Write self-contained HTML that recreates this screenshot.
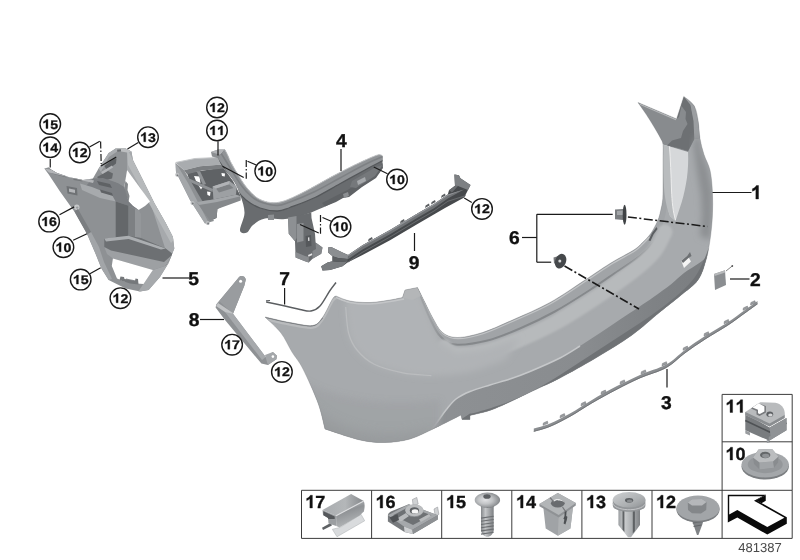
<!DOCTYPE html>
<html><head><meta charset="utf-8"><title>Rear bumper trim panel</title>
<style>
html,body{margin:0;padding:0;background:#fff;}
body{width:800px;height:560px;overflow:hidden;font-family:"Liberation Sans",sans-serif;}
svg{display:block;will-change:transform;}
text{text-rendering:geometricPrecision;}
text{font-family:"Liberation Sans",sans-serif;}
.b{font-weight:bold;font-size:18px;fill:#111;stroke:#111;stroke-width:0.35;text-anchor:middle;}
.c{font-weight:bold;font-size:12.5px;fill:#111;stroke:#111;stroke-width:0.3;text-anchor:middle;}
.t{font-weight:bold;font-size:17.5px;fill:#111;stroke:#111;stroke-width:0.35;}
.ld{stroke:#1a1a1a;stroke-width:1.2;fill:none;}
.ci{fill:#fff;stroke:#1a1a1a;stroke-width:1.4;}
</style></head><body>
<svg width="800" height="560" viewBox="0 0 800 560">
<defs>
<filter id="bl1" x="-10%" y="-10%" width="120%" height="120%"><feGaussianBlur stdDeviation="1.2"/></filter>
<filter id="bl3" x="-20%" y="-20%" width="140%" height="140%"><feGaussianBlur stdDeviation="3"/></filter>
<filter id="bl6" x="-30%" y="-30%" width="160%" height="160%"><feGaussianBlur stdDeviation="6"/></filter>
<filter id="soft" x="-5%" y="-5%" width="110%" height="110%"><feGaussianBlur stdDeviation="0.45"/></filter>
<linearGradient id="gBody" x1="0" y1="0" x2="1" y2="0">
 <stop offset="0" stop-color="#9da0a3"/><stop offset="0.45" stop-color="#a4a7aa"/><stop offset="1" stop-color="#9a9da0"/>
</linearGradient>
<linearGradient id="gMetal" x1="0" y1="0" x2="1" y2="1">
 <stop offset="0" stop-color="#c4c6c8"/><stop offset="0.5" stop-color="#9b9ea1"/><stop offset="1" stop-color="#7c7f82"/>
</linearGradient>
<linearGradient id="gMetalV" x1="0" y1="0" x2="0" y2="1">
 <stop offset="0" stop-color="#c9cbcd"/><stop offset="1" stop-color="#85888b"/>
</linearGradient>
<linearGradient id="gMetalH" x1="0" y1="0" x2="1" y2="0">
 <stop offset="0" stop-color="#b9bbbd"/><stop offset="0.5" stop-color="#a0a3a6"/><stop offset="1" stop-color="#7a7d80"/>
</linearGradient>
</defs>
<rect x="0" y="0" width="800" height="560" fill="#ffffff"/>
<clipPath id="cpB"><path d="M265.0,317.0 C269.2,317.9 282.1,321.1 290.0,322.5 C297.9,323.9 307.1,326.3 312.5,325.5 C317.9,324.7 319.2,321.9 322.5,317.5 C325.8,313.1 330.2,302.6 332.5,299.0 C334.8,295.4 335.4,296.5 336.0,296.0 L336.0,296.0 C338.3,296.8 344.3,299.9 350.0,301.0 C355.7,302.1 363.3,302.7 370.0,302.5 C376.7,302.3 384.6,300.8 390.0,300.0 C395.4,299.2 400.4,297.9 402.5,297.5 L405,290 L417.5,287.5 L417.5,287.5 C418.8,290.0 422.5,297.5 425.0,302.5 C427.5,307.5 429.6,312.5 432.5,317.5 C435.4,322.5 438.3,329.2 442.5,332.5 C446.7,335.8 450.8,337.5 457.5,337.5 C464.2,337.5 473.3,335.4 482.5,332.5 C491.7,329.6 501.2,325.0 512.5,320.0 C523.8,315.0 537.9,309.2 550.0,302.5 C562.1,295.8 575.0,286.5 585.0,280.0 C595.0,273.5 601.9,268.5 610.0,263.5 C618.1,258.5 628.3,253.5 633.8,250.0 C639.2,246.5 640.0,244.8 642.5,242.5 C645.0,240.2 647.0,238.1 648.8,236.0 C650.5,233.9 651.5,232.7 653.0,230.0 C654.5,227.3 656.7,223.2 658.0,220.0 C659.3,216.8 659.8,214.5 660.6,211.0 C661.4,207.5 662.4,203.9 662.8,198.8 C663.1,193.6 663.0,186.5 663.0,180.0 C663.0,173.5 663.0,165.9 663.0,160.0 C663.0,154.1 663.4,148.2 663.0,144.6 C662.6,141.0 662.0,141.1 660.5,138.2 C659.0,135.3 656.5,131.0 654.1,127.0 C651.7,123.0 648.7,118.2 646.0,114.1 C643.3,110.0 639.3,104.4 638.0,102.5 L676.6,118.9 L683.8,96.4 L683.8,96.4 C685.5,98.0 691.9,101.7 694.3,106.0 C696.7,110.3 697.4,116.6 698.3,122.0 C699.2,127.4 699.0,132.8 699.9,138.2 C700.8,143.6 702.2,149.0 703.9,154.3 C705.6,159.7 708.6,164.1 710.0,170.3 C711.4,176.5 712.0,184.1 712.4,191.7 C712.8,199.3 712.8,207.8 712.4,215.8 C712.0,223.9 711.1,232.6 710.0,240.0 C708.9,247.4 708.0,253.3 706.0,260.0 C704.0,266.7 702.3,274.0 698.0,280.0 C693.7,286.0 686.3,290.7 680.0,296.0 C673.7,301.3 668.1,305.4 660.0,312.0 C651.9,318.6 642.1,327.8 631.4,335.5 C620.7,343.2 607.6,350.9 595.7,358.0 C583.8,365.1 570.5,372.5 560.0,378.0 C549.5,383.5 543.3,385.9 532.5,391.0 C521.7,396.1 505.4,404.4 495.0,408.5 C484.6,412.6 474.2,414.3 470.0,415.5 L470,419.5 L462,419.5 L461.0,415.0 C456.7,417.2 443.5,424.0 435.0,428.0 C426.5,432.0 418.3,436.6 410.0,439.0 C401.7,441.4 393.3,442.3 385.0,442.5 C376.7,442.7 370.0,442.2 360.0,440.0 C350.0,437.8 330.8,430.8 325.0,429.0 L325.0,429.0 C323.8,424.7 321.7,413.0 318.0,403.0 C314.3,393.0 307.3,377.5 303.0,369.0 C298.7,360.5 295.7,358.0 292.0,352.0 C288.3,346.0 285.5,338.8 281.0,333.0 C276.5,327.2 267.7,319.7 265.0,317.0Z"/></clipPath>
<path d="M265.0,317.0 C269.2,317.9 282.1,321.1 290.0,322.5 C297.9,323.9 307.1,326.3 312.5,325.5 C317.9,324.7 319.2,321.9 322.5,317.5 C325.8,313.1 330.2,302.6 332.5,299.0 C334.8,295.4 335.4,296.5 336.0,296.0 L336.0,296.0 C338.3,296.8 344.3,299.9 350.0,301.0 C355.7,302.1 363.3,302.7 370.0,302.5 C376.7,302.3 384.6,300.8 390.0,300.0 C395.4,299.2 400.4,297.9 402.5,297.5 L405,290 L417.5,287.5 L417.5,287.5 C418.8,290.0 422.5,297.5 425.0,302.5 C427.5,307.5 429.6,312.5 432.5,317.5 C435.4,322.5 438.3,329.2 442.5,332.5 C446.7,335.8 450.8,337.5 457.5,337.5 C464.2,337.5 473.3,335.4 482.5,332.5 C491.7,329.6 501.2,325.0 512.5,320.0 C523.8,315.0 537.9,309.2 550.0,302.5 C562.1,295.8 575.0,286.5 585.0,280.0 C595.0,273.5 601.9,268.5 610.0,263.5 C618.1,258.5 628.3,253.5 633.8,250.0 C639.2,246.5 640.0,244.8 642.5,242.5 C645.0,240.2 647.0,238.1 648.8,236.0 C650.5,233.9 651.5,232.7 653.0,230.0 C654.5,227.3 656.7,223.2 658.0,220.0 C659.3,216.8 659.8,214.5 660.6,211.0 C661.4,207.5 662.4,203.9 662.8,198.8 C663.1,193.6 663.0,186.5 663.0,180.0 C663.0,173.5 663.0,165.9 663.0,160.0 C663.0,154.1 663.4,148.2 663.0,144.6 C662.6,141.0 662.0,141.1 660.5,138.2 C659.0,135.3 656.5,131.0 654.1,127.0 C651.7,123.0 648.7,118.2 646.0,114.1 C643.3,110.0 639.3,104.4 638.0,102.5 L676.6,118.9 L683.8,96.4 L683.8,96.4 C685.5,98.0 691.9,101.7 694.3,106.0 C696.7,110.3 697.4,116.6 698.3,122.0 C699.2,127.4 699.0,132.8 699.9,138.2 C700.8,143.6 702.2,149.0 703.9,154.3 C705.6,159.7 708.6,164.1 710.0,170.3 C711.4,176.5 712.0,184.1 712.4,191.7 C712.8,199.3 712.8,207.8 712.4,215.8 C712.0,223.9 711.1,232.6 710.0,240.0 C708.9,247.4 708.0,253.3 706.0,260.0 C704.0,266.7 702.3,274.0 698.0,280.0 C693.7,286.0 686.3,290.7 680.0,296.0 C673.7,301.3 668.1,305.4 660.0,312.0 C651.9,318.6 642.1,327.8 631.4,335.5 C620.7,343.2 607.6,350.9 595.7,358.0 C583.8,365.1 570.5,372.5 560.0,378.0 C549.5,383.5 543.3,385.9 532.5,391.0 C521.7,396.1 505.4,404.4 495.0,408.5 C484.6,412.6 474.2,414.3 470.0,415.5 L470,419.5 L462,419.5 L461.0,415.0 C456.7,417.2 443.5,424.0 435.0,428.0 C426.5,432.0 418.3,436.6 410.0,439.0 C401.7,441.4 393.3,442.3 385.0,442.5 C376.7,442.7 370.0,442.2 360.0,440.0 C350.0,437.8 330.8,430.8 325.0,429.0 L325.0,429.0 C323.8,424.7 321.7,413.0 318.0,403.0 C314.3,393.0 307.3,377.5 303.0,369.0 C298.7,360.5 295.7,358.0 292.0,352.0 C288.3,346.0 285.5,338.8 281.0,333.0 C276.5,327.2 267.7,319.7 265.0,317.0Z" fill="#a7aaad"/>
<g clip-path="url(#cpB)">
<defs><linearGradient id="gVal" gradientUnits="userSpaceOnUse" x1="450" y1="0" x2="690" y2="0"><stop offset="0" stop-color="#8d9093"/><stop offset="0.55" stop-color="#898c8f"/><stop offset="0.85" stop-color="#7f8285"/><stop offset="1" stop-color="#7c7f82"/></linearGradient></defs>
<path d="M430.0,432.0 C431.3,430.2 435.3,424.7 438.0,421.0 C440.7,417.3 443.0,413.7 446.0,410.0 C449.0,406.3 452.0,402.1 456.0,399.0 C460.0,395.9 464.3,393.8 470.0,391.5 C475.7,389.2 483.3,387.1 490.0,385.0 C496.7,382.9 503.3,381.2 510.0,379.0 C516.7,376.8 521.7,375.0 530.0,371.5 C538.3,368.0 551.7,362.2 560.0,358.0 C568.3,353.8 573.3,350.2 580.0,346.0 C586.7,341.8 593.3,337.4 600.0,333.0 C606.7,328.6 613.5,323.8 620.0,319.5 C626.5,315.2 633.4,310.8 639.0,307.0 C644.6,303.2 648.2,300.8 653.6,297.0 C659.0,293.2 666.3,288.0 671.4,284.0 C676.5,280.0 679.2,276.6 684.0,273.0 C688.8,269.4 695.3,266.0 700.0,262.5 C704.7,259.0 710.0,253.8 712.0,252.0 L730.0,200.0 C729.7,210.0 733.0,243.3 728.0,260.0 C723.0,276.7 711.3,288.3 700.0,300.0 C688.7,311.7 676.7,318.0 660.0,330.0 C643.3,342.0 620.0,360.0 600.0,372.0 C580.0,384.0 560.0,392.3 540.0,402.0 C520.0,411.7 498.3,423.7 480.0,430.0 C461.7,436.3 438.3,438.3 430.0,440.0Z" fill="url(#gVal)"/>
<path d="M470.0,413.5 C471.0,413.3 471.0,413.9 476.0,412.5 C481.0,411.1 492.7,407.6 500.0,405.0 C507.3,402.4 513.3,400.0 520.0,397.0 C526.7,394.0 533.3,390.7 540.0,387.0 C546.7,383.3 553.3,379.2 560.0,375.0 C566.7,370.8 573.3,366.3 580.0,362.0 C586.7,357.7 593.3,353.3 600.0,349.0 C606.7,344.7 613.3,340.3 620.0,336.0 C626.7,331.7 633.3,327.5 640.0,323.0 C646.7,318.5 653.3,314.0 660.0,309.0 C666.7,304.0 674.2,298.3 680.0,293.0 C685.8,287.7 691.2,282.2 695.0,277.0 C698.8,271.8 700.8,266.5 703.0,262.0 C705.2,257.5 707.2,252.0 708.0,250.0 L730.0,200.0 C729.7,210.0 733.0,243.3 728.0,260.0 C723.0,276.7 711.3,288.3 700.0,300.0 C688.7,311.7 676.7,318.0 660.0,330.0 C643.3,342.0 620.0,360.0 600.0,372.0 C580.0,384.0 560.0,392.3 540.0,402.0 C520.0,411.7 498.3,423.7 480.0,430.0 C461.7,436.3 438.3,438.3 430.0,440.0Z" fill="#6f7275"/>
<path d="M430.0,432.0 C431.3,430.2 435.3,424.7 438.0,421.0 C440.7,417.3 443.0,413.7 446.0,410.0 C449.0,406.3 452.0,402.1 456.0,399.0 C460.0,395.9 464.3,393.8 470.0,391.5 C475.7,389.2 483.3,387.1 490.0,385.0 C496.7,382.9 503.3,381.2 510.0,379.0 C516.7,376.8 521.7,375.0 530.0,371.5 C538.3,368.0 551.7,362.2 560.0,358.0 C568.3,353.8 576.7,348.0 580.0,346.0" fill="none" stroke="#c6c8ca" stroke-width="1.5" filter="url(#soft)"/>
<path d="M417.5,287.5 C418.6,290.4 421.8,299.4 424.0,305.0 C426.2,310.6 428.3,315.8 431.0,321.0 C433.7,326.2 436.0,332.1 440.0,336.0 C444.0,339.9 447.1,343.8 455.0,344.5 C462.9,345.2 476.7,343.2 487.5,340.5 C498.3,337.8 508.8,333.3 520.0,328.5 C531.2,323.7 543.3,317.9 555.0,311.5 C566.7,305.1 580.0,296.4 590.0,290.0 C600.0,283.6 606.7,278.7 615.0,273.0 C623.3,267.3 633.7,261.0 640.0,256.0 C646.3,251.0 649.5,247.5 653.0,243.0 C656.5,238.5 658.8,234.2 661.0,229.0 C663.2,223.8 664.9,217.3 666.0,212.0 C667.1,206.7 667.2,204.0 667.5,197.0 C667.8,190.0 667.8,178.5 668.0,170.0 C668.2,161.5 668.8,150.0 669.0,146.0 L663,144.6 L663.0,144.6 C663.0,147.2 663.0,154.1 663.0,160.0 C663.0,165.9 663.0,173.5 663.0,180.0 C663.0,186.5 663.1,193.6 662.8,198.8 C662.4,203.9 661.4,207.5 660.6,211.0 C659.8,214.5 659.3,216.8 658.0,220.0 C656.7,223.2 654.5,227.3 653.0,230.0 C651.5,232.7 650.5,233.9 648.8,236.0 C647.0,238.1 645.0,240.2 642.5,242.5 C640.0,244.8 639.2,246.5 633.8,250.0 C628.3,253.5 618.1,258.5 610.0,263.5 C601.9,268.5 595.0,273.5 585.0,280.0 C575.0,286.5 562.1,295.8 550.0,302.5 C537.9,309.2 523.8,315.0 512.5,320.0 C501.2,325.0 491.7,329.6 482.5,332.5 C473.3,335.4 464.2,337.5 457.5,337.5 C450.8,337.5 446.7,335.8 442.5,332.5 C438.3,329.2 435.4,322.5 432.5,317.5 C429.6,312.5 427.5,307.5 425.0,302.5 C422.5,297.5 418.8,290.0 417.5,287.5Z" fill="#a1a4a7"/>
<path d="M417.5,287.5 C418.6,290.4 421.8,299.4 424.0,305.0 C426.2,310.6 428.3,315.8 431.0,321.0 C433.7,326.2 436.0,332.1 440.0,336.0 C444.0,339.9 447.1,343.8 455.0,344.5 C462.9,345.2 476.7,343.2 487.5,340.5 C498.3,337.8 508.8,333.3 520.0,328.5 C531.2,323.7 543.3,317.9 555.0,311.5 C566.7,305.1 580.0,296.4 590.0,290.0 C600.0,283.6 606.7,278.7 615.0,273.0 C623.3,267.3 633.7,261.0 640.0,256.0 C646.3,251.0 649.5,247.5 653.0,243.0 C656.5,238.5 659.7,231.3 661.0,229.0" fill="none" stroke="#85888b" stroke-width="2" filter="url(#soft)"/>
<path d="M418.1,288.7 C419.4,291.2 423.1,298.7 425.6,303.7 C428.1,308.7 430.2,313.7 433.1,318.7 C436.0,323.7 438.9,330.4 443.1,333.7 C447.3,337.0 451.4,338.7 458.1,338.7 C464.8,338.7 473.9,336.6 483.1,333.7 C492.3,330.8 501.9,326.2 513.1,321.2 C524.4,316.2 538.5,310.4 550.6,303.7 C562.7,297.0 575.6,287.7 585.6,281.2 C595.6,274.7 602.5,269.7 610.6,264.7 C618.7,259.7 628.9,254.7 634.4,251.2 C639.8,247.7 640.6,246.0 643.1,243.7 C645.6,241.4 648.3,238.3 649.4,237.2" fill="none" stroke="#c2c4c6" stroke-width="1.2" filter="url(#soft)"/>
<path d="M444.0,347.0 C446.0,348.2 448.8,353.8 456.0,354.5 C463.2,355.2 476.8,353.5 487.5,351.0 C498.2,348.5 508.8,344.2 520.0,339.5 C531.2,334.8 543.3,329.3 555.0,323.0 C566.7,316.7 580.0,307.9 590.0,301.5 C600.0,295.1 606.7,290.5 615.0,284.5 C623.3,278.5 633.3,271.2 640.0,265.5 C646.7,259.8 650.8,256.1 655.0,250.5 C659.2,244.9 663.3,235.1 665.0,232.0" fill="none" stroke="#b7babc" stroke-width="15" stroke-linecap="round" filter="url(#bl1)"/>
<path d="M638,102.5 L676.6,118.9 L683.8,96.4 L694.3,106 L698.3,122 L699.9,138.2 L694.3,139 L688,152 L663,144.6 L660.5,138.2 L654.1,127 L646,114.1Z" fill="#888b8e"/>
<path d="M676.6,118.9 L683.8,96.4 L690.5,104 L694,121 L695.5,137 L688,151 L678,148 L667,145.5 L672,140.5 L681,138 L683,131 L687.5,124 L685.5,119 L686,112 L681.5,106 L679,117Z" fill="#6d7073"/>
<path d="M683.8,96.4 L694.3,106 L698.3,122 L699.9,138.2 L694.3,139 L693.5,121 L690.5,105Z" fill="#9b9ea1"/>
<path d="M639.5,104 L676,119.6" stroke="#b6b8ba" stroke-width="1.2" fill="none"/>
<path d="M663,144.6 L688,152 C688.5,161 688,170 686.9,178.3 C685.5,187 684,195 681.6,202.4 L675.5,221 L670,216 C668,210 667,204 666.5,197 C666,188 666,178 666,165Z" fill="#d6d8da"/>
<path d="M663,144.6 L669.5,146.5 C670.5,160 671,175 671.5,190 C672,202 673,212 675.5,221 L670,216 C667.5,210 666,204 665,197 C663.5,185 663,170 663,160Z" fill="#b9bcbe"/>
<path d="M669.5,146.5 C670.5,160 671,175 671.5,190 C672,202 673,212 675.5,220" fill="none" stroke="#f0f0f1" stroke-width="0.9"/>
<path d="M693,143 L699,132.8 L701.7,151.6 L708.4,170.3 L712.4,191.7 L712.4,215.8 L710,240 L700,236 L702,215 L701,195 L697,172Z" fill="#8c8f92" filter="url(#bl3)"/>
<path d="M656.5,227 L652,233 L648.5,240.5 L650.5,241 L653.5,234.5 L657.5,229Z" fill="#5c5f62"/>
<path d="M681.25,260.7 L687.5,255.4 L691,261.6 L684,267.9Z" fill="#f4f4f4"/>
<path d="M681.25,260.7 L687.5,255.4 L690,252 L691.5,256 L688.5,258 L683,263Z" fill="#6e7174"/>
<path d="M345.7,307.0 C346.2,311.3 346.7,325.8 348.6,333.0 C350.5,340.2 352.7,344.8 357.0,350.0 C361.3,355.2 366.7,360.5 374.3,364.3 C381.9,368.1 393.4,371.0 402.9,372.9 C412.4,374.8 420.2,375.8 431.4,375.7 C442.6,375.6 457.7,374.6 470.0,372.0 C482.3,369.4 499.2,362.0 505.0,360.0 L520,338 L487,349 L456,353 L440,342 L425,305 L417,288 L345,300Z" fill="#b0b3b6" filter="url(#bl3)"/>
<path d="M345.7,307.0 C346.2,311.3 346.7,325.8 348.6,333.0 C350.5,340.2 352.7,344.8 357.0,350.0 C361.3,355.2 366.7,360.5 374.3,364.3 C381.9,368.1 393.4,371.0 402.9,372.9 C412.4,374.8 426.6,375.2 431.4,375.7" fill="none" stroke="#bbbdbf" stroke-width="1.2" filter="url(#soft)"/>
<path d="M336.0,297.5 C338.3,298.3 344.3,301.4 350.0,302.5 C355.7,303.6 363.3,304.2 370.0,304.0 C376.7,303.8 384.3,302.3 390.0,301.5 C395.7,300.7 401.7,299.4 404.0,299.0" fill="none" stroke="#c3c5c7" stroke-width="1.6"/>
<path d="M402.5,297.5 L405,290 L417.5,287.5 L421,296 L412,300Z" fill="#b4b6b8"/>
<path d="M290,372 C320,395 370,408 440,400 L440,455 L290,455Z" fill="#a0a3a6" filter="url(#bl3)" opacity="0.9"/><path d="M300,395 C330,432 380,443 436,428 L440,460 L300,460Z" fill="#94979a" filter="url(#bl6)" opacity="0.7"/>
<path d="M265.0,319.2 C269.2,320.1 282.1,323.3 290.0,324.7 C297.9,326.1 307.1,328.5 312.5,327.7 C317.9,326.9 319.2,324.1 322.5,319.7 C325.8,315.3 330.2,304.8 332.5,301.2 C334.8,297.6 335.4,298.7 336.0,298.2" fill="none" stroke="#b9bbbd" stroke-width="2.2" filter="url(#soft)"/>
<path d="M265.0,317.0 C269.2,317.9 282.1,321.1 290.0,322.5 C297.9,323.9 307.1,326.3 312.5,325.5 C317.9,324.7 320.8,318.8 322.5,317.5" fill="none" stroke="#74777a" stroke-width="1.6" filter="url(#soft)"/>
</g>
<path d="M265.0,317.0 C269.2,317.9 282.1,321.1 290.0,322.5 C297.9,323.9 307.1,326.3 312.5,325.5 C317.9,324.7 319.2,321.9 322.5,317.5 C325.8,313.1 330.2,302.6 332.5,299.0 C334.8,295.4 335.4,296.5 336.0,296.0 L336.0,296.0 C338.3,296.8 344.3,299.9 350.0,301.0 C355.7,302.1 363.3,302.7 370.0,302.5 C376.7,302.3 384.6,300.8 390.0,300.0 C395.4,299.2 400.4,297.9 402.5,297.5 L405,290 L417.5,287.5 L417.5,287.5 C418.8,290.0 422.5,297.5 425.0,302.5 C427.5,307.5 429.6,312.5 432.5,317.5 C435.4,322.5 438.3,329.2 442.5,332.5 C446.7,335.8 450.8,337.5 457.5,337.5 C464.2,337.5 473.3,335.4 482.5,332.5 C491.7,329.6 501.2,325.0 512.5,320.0 C523.8,315.0 537.9,309.2 550.0,302.5 C562.1,295.8 575.0,286.5 585.0,280.0 C595.0,273.5 601.9,268.5 610.0,263.5 C618.1,258.5 628.3,253.5 633.8,250.0 C639.2,246.5 640.0,244.8 642.5,242.5 C645.0,240.2 647.0,238.1 648.8,236.0 C650.5,233.9 651.5,232.7 653.0,230.0 C654.5,227.3 656.7,223.2 658.0,220.0 C659.3,216.8 659.8,214.5 660.6,211.0 C661.4,207.5 662.4,203.9 662.8,198.8 C663.1,193.6 663.0,186.5 663.0,180.0 C663.0,173.5 663.0,165.9 663.0,160.0 C663.0,154.1 663.4,148.2 663.0,144.6 C662.6,141.0 662.0,141.1 660.5,138.2 C659.0,135.3 656.5,131.0 654.1,127.0 C651.7,123.0 648.7,118.2 646.0,114.1 C643.3,110.0 639.3,104.4 638.0,102.5 L676.6,118.9 L683.8,96.4 L683.8,96.4 C685.5,98.0 691.9,101.7 694.3,106.0 C696.7,110.3 697.4,116.6 698.3,122.0 C699.2,127.4 699.0,132.8 699.9,138.2 C700.8,143.6 702.2,149.0 703.9,154.3 C705.6,159.7 708.6,164.1 710.0,170.3 C711.4,176.5 712.0,184.1 712.4,191.7 C712.8,199.3 712.8,207.8 712.4,215.8 C712.0,223.9 711.1,232.6 710.0,240.0 C708.9,247.4 708.0,253.3 706.0,260.0 C704.0,266.7 702.3,274.0 698.0,280.0 C693.7,286.0 686.3,290.7 680.0,296.0 C673.7,301.3 668.1,305.4 660.0,312.0 C651.9,318.6 642.1,327.8 631.4,335.5 C620.7,343.2 607.6,350.9 595.7,358.0 C583.8,365.1 570.5,372.5 560.0,378.0 C549.5,383.5 543.3,385.9 532.5,391.0 C521.7,396.1 505.4,404.4 495.0,408.5 C484.6,412.6 474.2,414.3 470.0,415.5 L470,419.5 L462,419.5 L461.0,415.0 C456.7,417.2 443.5,424.0 435.0,428.0 C426.5,432.0 418.3,436.6 410.0,439.0 C401.7,441.4 393.3,442.3 385.0,442.5 C376.7,442.7 370.0,442.2 360.0,440.0 C350.0,437.8 330.8,430.8 325.0,429.0 L325.0,429.0 C323.8,424.7 321.7,413.0 318.0,403.0 C314.3,393.0 307.3,377.5 303.0,369.0 C298.7,360.5 295.7,358.0 292.0,352.0 C288.3,346.0 285.5,338.8 281.0,333.0 C276.5,327.2 267.7,319.7 265.0,317.0Z" fill="none" stroke="#7f8285" stroke-width="0.6" opacity="0.6"/>
<clipPath id="cp5"><path d="M44.3,168.6 L49.0,167.2 L51.0,169.5 L57.0,172.9 L68.6,177.0 L82.9,180.0 L92.9,178.6 L98.6,168.6 L108.6,152.9 L115.7,148.6 L125.7,148.6 L131.4,151.4 L132.9,160.0 L141.4,177.0 L154.3,202.9 L165.7,222.9 L172.9,237.0 L174.3,248.6 L168.6,262.9 L160.0,277.0 L148.6,290.0 L140.0,291.4 L125.7,288.6 L108.6,280.0 L101.4,268.6 L95.7,254.3 L87.1,234.3 L74.3,211.4 L60.0,191.4 L48.6,174.3Z"/></clipPath>
<path d="M44.3,168.6 L49.0,167.2 L51.0,169.5 L57.0,172.9 L68.6,177.0 L82.9,180.0 L92.9,178.6 L98.6,168.6 L108.6,152.9 L115.7,148.6 L125.7,148.6 L131.4,151.4 L132.9,160.0 L141.4,177.0 L154.3,202.9 L165.7,222.9 L172.9,237.0 L174.3,248.6 L168.6,262.9 L160.0,277.0 L148.6,290.0 L140.0,291.4 L125.7,288.6 L108.6,280.0 L101.4,268.6 L95.7,254.3 L87.1,234.3 L74.3,211.4 L60.0,191.4 L48.6,174.3Z" fill="#8e9194"/>
<g clip-path="url(#cp5)">
<path d="M115,148 L132,148 L134,160 L156,203 L176,238 L176,250 L160,280 L148,292 L138,292 L144,283 L152.9,270 L165.7,265.7 L172.9,254.3 L165,248 L150,201.4 L127.1,170 L124.3,187 L112,180 L100,166Z" fill="#a6a9ac"/>
<path d="M127,148.6 L133,160 L156,203 L175.5,238 L171,243 L150,205 L128,165Z" fill="#b6b9bb"/>
<path d="M98.6,168.6 L108.6,152.9 L115.7,148.6 L118,151 L109,157 L101,172Z" fill="#a9acaf"/>
<path d="M109,157 L118,151 L127,150.5 L127.1,170 L124.3,187 L118,183 L103,178 L101,172Z" fill="#909396"/>
<path d="M104.5,166 L114,158 L116.5,158.5 L116,163.5 L107,170.5Z" fill="#5f6265"/>
<path d="M97,177 L108,171 L113,173.5 L112,178.5 L101,181.5Z" fill="#65686b"/>
<path d="M101,172 L112,165.5 L113,167.5 L102.5,174Z" fill="#b4b6b9"/>
<path d="M115.7,148.6 L125.7,148.6 L131.4,151.4 L127,152.5 L118,151Z" fill="#bcbec0"/>
<path d="M117,149.5 L121,149.3 L121,151.5 L117.3,151.8Z" fill="#6a6d70"/>
<path d="M127.1,170 L150,201.4 L145,206 L138.6,210 L133,206 L128.6,201.4 C126,196 124.5,192 124.3,187Z" fill="#ffffff"/>
<path d="M125.5,181 L128,184 L127.5,190 L129.5,196 L128.6,201.4 C126,196 124.5,192 124.3,187Z" fill="#85888b"/>
<path d="M92.9,178.6 L103,178 L118,183 L124.3,187 L128.6,201.4 L133,206 L138.6,210 L128.6,205.7 L115.7,201.4 L100,196 L84,188Z" fill="#7b7e82"/>
<path d="M80,183.5 L92,187 L112,195 L115.7,201.4 L100,198 L82,190Z" fill="#a7aaad"/>
<path d="M97,181 L110,184 L112,188 L99,185Z M100,189.5 L112,193 L113,196 L101,192.5Z" fill="#5f6265"/>
<path d="M115.7,201.4 L128.6,205.7 L128.6,237 L115.7,238.6Z" fill="#64676a"/>
<path d="M128.6,205.7 L135,209 L135,237 L128.6,237Z" fill="#7d8083"/>
<path d="M135,209 L138.6,210 L141,214 L141,238 L135,237Z" fill="#94979a"/>
<path d="M104.3,238.6 L115.7,237.5 L128.6,235.7 L141,238 L165.7,248.6 L172.9,254.3 L165.7,265.7 L110,254.3 L104.3,247Z" fill="#6d7073"/>
<path d="M104.3,247 L111,250.5 L164,262 L172.9,254.3 L165.7,265.7 L152.9,270 L112.9,258.6 L107,254Z" fill="#9da0a3"/>
<path d="M104.3,238.6 L128.6,235.7 L165.7,248.6 L161,249.5 L128.6,239 L106,241.5Z" fill="#abaeb1"/>
<path d="M112.9,258.6 L152.9,270 L143.5,284 L137,283.6 L136,280.5 L126,278.5 L124.5,281.5 L117,278.6 L111.8,266Z" fill="#ffffff"/>
<path d="M119.5,280 L120.5,276.5 L124,277 L124.5,279 L135,281 L135.5,278.5 L138,279 L138.5,284.5 L130,283.5Z" fill="#75787b"/>
<path d="M87.1,234.3 L95.7,254.3 L101.4,268.6 L108.6,280 L112,279 L104,262 L99,247 L91,232Z" fill="#a2a5a8"/>
<path d="M66.5,186 L77,188 L77.5,195.5 L67.5,193.5Z" fill="#6f7275"/>
<path d="M69,188.5 L75,189.8 L75,193 L69,191.8Z" fill="#b4b6b9"/>
<circle cx="76.8" cy="207.2" r="2.7" fill="#c6c8ca"/><circle cx="77.2" cy="207.6" r="1.2" fill="#999c9f"/>
<path d="M50,169.5 L54,168 L55,170.5 L60,170.5 L61,173 L66,173.5 L66.5,177.5 L52,173.5Z" fill="#75787b"/>
<path d="M73,176 L82,177.5 L82.5,181.5 L73.5,180Z" fill="#75787b"/>
<path d="M44.3,168.6 L50,169.5 L94,180.5 L93,183 L49,172.5Z" fill="#b3b5b8"/>
<path d="M74.3,211.4 L87.1,234.3 L91,232 L78,209Z" fill="#7b7e81"/>
</g>
<path d="M187,173 L223,167.5 L233,181 L240.7,196.3 L217.4,209 L216.6,218 L210,221 L196.5,202Z" fill="#5f6265"/>
<path d="M194,176 L199.5,176.5 L200.5,183 L196,181Z M198,184.5 L202.5,187 L201,189.5Z M207,191.5 L210.5,192 L210,196 L207.5,195Z M221.4,173 L225,173.5 L224.7,176.5 L222,176Z" fill="#ffffff"/>
<path d="M188,178 L213,189 L212.6,192 L190,182Z M200,171 L206,184 L203,185 L197,172Z" fill="#8f9295"/>
<path d="M175.6,163 L184,170 L190,180 L214,221 L205,223.6 L190,200 L176,172Z" fill="#8d9093"/>
<path d="M175.6,163 L178,166.5 L188,183 L208,221.5 L205,223.6 L190,200 L176,172Z" fill="#a4a7aa"/>
<path d="M175.6,162.5 L195,158.5 L218.2,157.5 L222.5,164.5 L200,166.3 L184,170.2Z" fill="#a9acaf"/>
<path d="M184,170.2 L200,166.3 L222.5,164.5 L224,168.5 L202,170.6 L187,174.2Z" fill="#7b7e81"/>
<path d="M175.6,162.5 L195,158.5 L218.2,157.5" stroke="#c6c8ca" stroke-width="1" fill="none"/>
<path d="M212.6,186.6 L229.5,181 L236.7,186.6 L236,194.7 L213.4,199.5Z" fill="#9da0a3"/>
<path d="M216,188.5 L229,184.3 L233.5,188 L219,192.5Z" fill="#7f8285"/>
<path d="M216,188.5 L229,184.3 L229.5,181 L212.6,186.6Z" fill="#b1b3b6"/>
<path d="M196.5,202 L213.4,199.5 L236,194.7 L240.7,196.3 L240.7,200.5 L217.4,209 L216.6,217.5 L210,220.8Z" fill="#85888b"/>
<path d="M196.5,202 L213.4,199.5 L236,194.7 L240.7,196.3 L217,202 L199,205Z" fill="#a3a6a9"/>
<circle cx="177.2" cy="174.8" r="2" fill="#bdbfc1"/><circle cx="177.5" cy="175.3" r="0.9" fill="#74777a"/>
<circle cx="192.5" cy="203" r="2" fill="#bdbfc1"/><circle cx="192.8" cy="203.5" r="0.9" fill="#74777a"/>
<circle cx="207.8" cy="223" r="2" fill="#bdbfc1"/><circle cx="208.10000000000002" cy="223.5" r="0.9" fill="#74777a"/>
<path d="M211,152 L218.2,149.6 L224.7,149.6 L227,153.7 L229,158 L219,158.5 L212,156.5Z" fill="#8b8e91"/>
<path d="M211,152 L218.2,149.6 L224.7,149.6 L227,153.7 L219,154.5Z" fill="#b2b4b7"/>
<clipPath id="cp4"><path d="M224.7,149.6 C225.1,150.3 225.9,151.5 227.0,153.7 C228.1,155.8 229.2,159.2 231.0,162.5 C232.8,165.8 234.8,169.5 237.5,173.8 C240.2,178.1 243.4,183.9 247.2,188.2 C250.9,192.5 254.9,197.1 260.0,199.5 C265.1,201.9 270.8,203.4 277.5,202.5 C284.2,201.6 290.4,198.6 300.0,194.0 C309.6,189.4 325.0,180.2 335.0,175.0 C345.0,169.8 352.9,165.8 360.0,162.5 C367.1,159.2 373.8,156.1 377.5,155.0 C381.2,153.9 381.7,155.8 382.5,156.0 L382.5,166.0 C381.2,167.8 380.8,172.2 375.0,177.0 C369.2,181.8 358.3,189.0 347.5,195.0 C336.7,201.0 320.4,209.0 310.0,213.0 C299.6,217.0 292.5,218.1 285.0,219.0 C277.5,219.9 270.3,217.5 265.0,218.5 C259.7,219.5 256.0,222.7 253.0,225.0 C250.0,227.3 249.2,231.6 247.0,232.5 C244.8,233.4 240.4,233.8 240.0,230.5 C239.6,227.2 244.4,218.7 244.5,213.0 C244.6,207.3 242.4,201.5 240.7,196.3 C239.0,191.1 237.2,186.6 234.3,181.8 C231.4,177.0 225.7,171.3 223.0,167.3 C220.3,163.3 218.8,159.3 218.0,157.7Z"/></clipPath>
<path d="M224.7,149.6 C225.1,150.3 225.9,151.5 227.0,153.7 C228.1,155.8 229.2,159.2 231.0,162.5 C232.8,165.8 234.8,169.5 237.5,173.8 C240.2,178.1 243.4,183.9 247.2,188.2 C250.9,192.5 254.9,197.1 260.0,199.5 C265.1,201.9 270.8,203.4 277.5,202.5 C284.2,201.6 290.4,198.6 300.0,194.0 C309.6,189.4 325.0,180.2 335.0,175.0 C345.0,169.8 352.9,165.8 360.0,162.5 C367.1,159.2 373.8,156.1 377.5,155.0 C381.2,153.9 381.7,155.8 382.5,156.0 L382.5,166.0 C381.2,167.8 380.8,172.2 375.0,177.0 C369.2,181.8 358.3,189.0 347.5,195.0 C336.7,201.0 320.4,209.0 310.0,213.0 C299.6,217.0 292.5,218.1 285.0,219.0 C277.5,219.9 270.3,217.5 265.0,218.5 C259.7,219.5 256.0,222.7 253.0,225.0 C250.0,227.3 249.2,231.6 247.0,232.5 C244.8,233.4 240.4,233.8 240.0,230.5 C239.6,227.2 244.4,218.7 244.5,213.0 C244.6,207.3 242.4,201.5 240.7,196.3 C239.0,191.1 237.2,186.6 234.3,181.8 C231.4,177.0 225.7,171.3 223.0,167.3 C220.3,163.3 218.8,159.3 218.0,157.7Z" fill="#696c6f"/>
<g clip-path="url(#cp4)">
<path d="M216.0,157.0 C217.5,159.2 221.5,164.5 225.0,170.0 C228.5,175.5 233.5,185.0 237.0,190.0 C240.5,195.0 242.2,197.0 246.0,200.0 C249.8,203.0 254.8,206.2 260.0,208.0 C265.2,209.8 272.5,211.1 277.5,211.0 C282.5,210.9 283.8,209.8 290.0,207.5 C296.2,205.2 306.7,201.5 315.0,197.5 C323.3,193.5 331.7,188.3 340.0,183.8 C348.3,179.2 357.8,173.9 365.0,170.0 C372.2,166.1 380.0,162.1 383.0,160.5 L383,150 L360,155 L300,188 L262,194 L244,178 L230,147 L216,150Z" fill="#909396"/>
<path d="M216.0,157.0 C217.5,159.2 221.5,164.5 225.0,170.0 C228.5,175.5 233.5,185.0 237.0,190.0 C240.5,195.0 242.2,197.0 246.0,200.0 C249.8,203.0 254.8,206.2 260.0,208.0 C265.2,209.8 272.5,211.1 277.5,211.0 C282.5,210.9 283.8,209.8 290.0,207.5 C296.2,205.2 306.7,201.5 315.0,197.5 C323.3,193.5 331.7,188.3 340.0,183.8 C348.3,179.2 357.8,173.9 365.0,170.0 C372.2,166.1 380.0,162.1 383.0,160.5" fill="none" stroke="#55585b" stroke-width="1.3"/>
<path d="M221.0,153.0 C222.3,155.2 225.7,160.7 229.0,166.0 C232.3,171.3 237.2,179.8 241.0,185.0 C244.8,190.2 248.5,194.1 252.0,197.0 C255.5,199.9 257.8,201.1 262.0,202.5 C266.2,203.9 272.8,205.6 277.5,205.5 C282.2,205.4 283.8,204.3 290.0,202.0 C296.2,199.7 306.7,195.5 315.0,191.5 C323.3,187.5 331.7,182.5 340.0,178.0 C348.3,173.5 357.8,168.1 365.0,164.5 C372.2,160.9 380.0,157.8 383.0,156.5" fill="none" stroke="#7e8184" stroke-width="1.6"/>
</g>
<path d="M224.7,149.6 C225.1,150.3 225.9,151.5 227.0,153.7 C228.1,155.8 229.2,159.2 231.0,162.5 C232.8,165.8 234.8,169.5 237.5,173.8 C240.2,178.1 243.4,183.9 247.2,188.2 C250.9,192.5 254.9,197.1 260.0,199.5 C265.1,201.9 270.8,203.4 277.5,202.5 C284.2,201.6 290.4,198.6 300.0,194.0 C309.6,189.4 325.0,180.2 335.0,175.0 C345.0,169.8 352.9,165.8 360.0,162.5 C367.1,159.2 373.8,156.1 377.5,155.0 C381.2,153.9 381.7,155.8 382.5,156.0" fill="none" stroke="#c4c6c8" stroke-width="1"/>
<path d="M322,203 L347.5,190 L375,173 L382.5,163 L383,168 L376,178 L362,187 L349,197 L343,198 L336,202 L325,206.5Z" fill="#5f6265"/>
<path d="M352,181 L376,167 L382.5,165 L375,176 L356,188 L350,187Z" fill="#75787b"/>
<path d="M357,181 L365,177 L366,181 L358,185Z" fill="#a6a9ac"/>
<path d="M268,215 L274,214.5 L274,220 L268,220Z M343,194 L348,192 L349,196 L344,198Z" fill="#8c8f92"/>
<path d="M288,217.5 L296.5,216 L303.75,214.4 L311.25,212.5 L311.5,218 L315,233.75 L315.6,242.5 L322.5,247.5 L321.25,253.75 L312.5,258.75 L308.75,262.5 L305,261.25 L295.6,257.5 L295,241.25 L288.75,233.75Z" fill="#696c6f"/>
<path d="M288,217.5 L296.5,216 L296.5,238 L295,241.25 L288.75,233.75Z" fill="#8d9093"/>
<path d="M297,224 L303.5,223 L303.5,241 L297,242.5Z" fill="#909396"/>
<path d="M305.5,236 L311,235 L311.5,246 L306,247Z" fill="#55585b"/>
<path d="M308,237.5 L309.3,237.3 L309.5,240.8 L308.2,241Z M308,255 L312,253.3 L312.3,255 L308.5,256.8Z" fill="#e6e6e7"/>
<path d="M315.6,242.5 L322.5,247.5 L321.25,253.75 L312.5,258.75 L312.5,251 L316,249Z" fill="#85888b"/>
<path d="M295.6,252 L305,256 L308.75,257 L308.75,262.5 L305,261.25 L295.6,257.5Z" fill="#8a8d90"/>
<path d="M328.1,247.5 L331.2,246.9 L342.5,252.5 L348.1,255.0 L362.5,245.2 L390.0,230.1 L417.5,213.6 L434.0,204.0 L447.8,194.4 L449.0,190.3 L455.0,185.8 L454.4,174.4 L458.9,175.2 L460.4,178.2 L470.5,185.0 L464.2,197.5 L445.0,208.0 L417.5,224.0 L390.0,240.3 L362.5,255.0 L347.5,262.5 L342.5,266.2 L330.0,270.0 L322.5,270.6 L321.2,266.2 L327.5,262.5 L332.5,261.2 L332.5,256.2 L328.1,252.5Z" fill="#46494c"/>
<path d="M348.1,255.0 L362.5,245.2 L390.0,230.1 L417.5,213.6 L434.0,204.0 L447.8,194.4 L464.0,189.5 L447.8,198.6 L434.0,208.2 L417.5,217.8 L390.0,234.3 L362.5,249.4 L348.1,259.2Z" fill="#6f7275"/>
<path d="M348.1,255.0 L362.5,245.2 L390.0,230.1 L417.5,213.6 L434.0,204.0 L447.8,194.4 L464.0,189.5 L447.8,195.7 L434.0,205.3 L417.5,214.9 L390.0,231.4 L362.5,246.6 L348.1,256.3Z" fill="#93969a"/>
<path d="M348.1,261.4 L362.5,251.7 L390.0,236.5 L417.5,220.0 L434.0,210.4 L447.8,200.8 L466.0,195.0 L465.0,196.6 L447.8,201.8 L434.0,211.4 L417.5,221.0 L390.0,237.5 L362.5,252.7 L348.1,262.4Z" fill="#696c6f"/>
<path d="M454.4,174.4 L458.9,175.2 L460.4,178.2 L470.5,185 L468,190 L458,186 L455,185.8Z" fill="#7d8083"/>
<path d="M449,190.3 L455,185.8 L458,186 L452,192.5Z" fill="#696c6f"/>
<path d="M328.1,247.5 L331.25,246.9 L342.5,252.5 L348.1,255 L347.8,259 L338,258 L332.5,256.25 L328.1,252.5Z" fill="#8b8e91"/>
<path d="M322.5,270.6 L330,270 L342.5,266.25 L347.5,261.25 L340,262 L332.5,261.25 L327.5,262.5 L321.25,266.25Z" fill="#7a7d80"/>
<path d="M332.5,256.25 L338,258 L347.8,259 L347.5,261.25 L340,262 L332.5,261.25Z" fill="#5b5e61"/>
<path d="M368,241.5 L368.6,238.9 L372,236.9 L372.6,238.9Z" fill="#5b5e61"/>
<path d="M400,223.5 L400.6,220.9 L404,218.9 L404.6,220.9Z" fill="#5b5e61"/>
<path d="M425,208 L425.6,205.4 L429,203.4 L429.6,205.4Z" fill="#5b5e61"/>
<path d="M431,204.5 L431.6,201.9 L435,199.9 L435.6,201.9Z" fill="#5b5e61"/>
<path d="M441,198 L441.6,195.4 L445,193.4 L445.6,195.4Z" fill="#5b5e61"/>
<path d="M533.8,428.4 C536.5,427.6 544.0,425.9 550.0,423.4 C556.0,420.9 563.0,417.3 570.0,413.4 C577.0,409.5 584.2,404.4 592.0,399.9 C599.8,395.4 609.0,390.3 617.0,386.1 C625.0,382.0 631.8,378.5 640.0,374.9 C648.2,371.3 658.8,368.8 666.2,364.6 C673.8,360.4 678.5,354.6 685.0,349.9 C691.5,345.2 697.9,340.7 705.0,336.1 C712.1,331.6 720.8,326.8 727.5,322.4 C734.2,318.0 740.0,313.5 745.0,309.9 C750.0,306.3 755.4,302.4 757.5,300.9 L757.5,304.2 C755.4,305.7 750.0,309.6 745.0,313.2 C740.0,316.8 734.2,321.3 727.5,325.7 C720.8,330.1 712.1,334.9 705.0,339.4 C697.9,344.0 691.5,348.5 685.0,353.2 C678.5,357.9 673.8,363.7 666.2,367.9 C658.8,372.1 648.2,374.6 640.0,378.2 C631.8,381.8 625.0,385.3 617.0,389.4 C609.0,393.6 599.8,398.7 592.0,403.2 C584.2,407.7 577.0,412.8 570.0,416.7 C563.0,420.6 556.0,424.2 550.0,426.7 C544.0,429.2 536.5,430.9 533.8,431.7Z" fill="#8a8d90"/>
<path d="M533.8,431.3 C536.5,430.5 544.0,428.8 550.0,426.3 C556.0,423.8 563.0,420.2 570.0,416.3 C577.0,412.4 584.2,407.3 592.0,402.8 C599.8,398.3 609.0,393.2 617.0,389.1 C625.0,384.9 631.8,381.4 640.0,377.8 C648.2,374.2 658.8,371.7 666.2,367.5 C673.8,363.3 678.5,357.5 685.0,352.8 C691.5,348.1 697.9,343.6 705.0,339.1 C712.1,334.5 720.8,329.7 727.5,325.3 C734.2,320.9 740.0,316.4 745.0,312.8 C750.0,309.2 755.4,305.3 757.5,303.8" fill="none" stroke="#6f7275" stroke-width="0.9"/>
<path d="M543,425.33846153846156 L543.4,422.9384615384615 L547.4,421.13846153846157 L548,423.33846153846156Z" fill="#999c9f" stroke="#74777a" stroke-width="0.5"/>
<path d="M560,417.8 L560.4,415.4 L564.4,413.6 L565,415.8Z" fill="#999c9f" stroke="#74777a" stroke-width="0.5"/>
<path d="M581,405.82272727272726 L581.4,403.42272727272723 L585.4,401.6227272727273 L586,403.82272727272726Z" fill="#999c9f" stroke="#74777a" stroke-width="0.5"/>
<path d="M601,394.25 L601.4,391.84999999999997 L605.4,390.05 L606,392.25Z" fill="#999c9f" stroke="#74777a" stroke-width="0.5"/>
<path d="M620,384.10434782608695 L620.4,381.7043478260869 L624.4,379.90434782608696 L625,382.10434782608695Z" fill="#999c9f" stroke="#74777a" stroke-width="0.5"/>
<path d="M641,374.12285714285713 L641.4,371.7228571428571 L645.4,369.92285714285714 L646,372.12285714285713Z" fill="#999c9f" stroke="#74777a" stroke-width="0.5"/>
<path d="M662,365.8828571428571 L662.4,363.4828571428571 L666.4,361.68285714285713 L667,363.8828571428571Z" fill="#999c9f" stroke="#74777a" stroke-width="0.5"/>
<path d="M683,350.3 L683.4,347.9 L687.4,346.1 L688,348.3Z" fill="#999c9f" stroke="#74777a" stroke-width="0.5"/>
<path d="M704,335.9388888888889 L704.4,333.5388888888889 L708.4,331.73888888888894 L709,333.9388888888889Z" fill="#999c9f" stroke="#74777a" stroke-width="0.5"/>
<path d="M724,323.7166666666667 L724.4,321.31666666666666 L728.4,319.5166666666667 L729,321.7166666666667Z" fill="#999c9f" stroke="#74777a" stroke-width="0.5"/>
<path d="M743,310.3 L743.4,307.9 L747.4,306.1 L748,308.3Z" fill="#999c9f" stroke="#74777a" stroke-width="0.5"/>
<path d="M750.5,304.90000000000003 L750.9,302.5 L754.9,300.70000000000005 L755.5,302.90000000000003Z" fill="#999c9f" stroke="#74777a" stroke-width="0.5"/>
<path d="M238.5,277.7 C240,275 245,275.6 245.8,279.4 L244.4,285.6 L233,313.75 L265.7,357 L272.9,352 L277,355.7 L276.4,359.3 L267.9,365 L261.4,363.6 L225,320 L215.6,307.5 L216.25,304.4Z" fill="#8e9194"/>
<path d="M238.5,277.7 C240,275 245,275.6 245.8,279.4 L244.4,285.6 L233,313.75 L220,302 L216.25,304.4Z" fill="#999c9f"/>
<path d="M218,303 L233,313 L231,316 L216,306Z" fill="#c1c3c5"/>
<path d="M225,312 L233,313.75 L265.7,357 L262,360Z" fill="#a6a9ac"/>
<path d="M265,355 L272.9,352 L277,355.7 L276.4,359.3 L267.9,365Z" fill="#a4a7aa"/>
<circle cx="240.6" cy="281.3" r="1.5" fill="#fff"/><circle cx="272.9" cy="356.6" r="1.3" fill="#fff"/>
<path d="M266.2,302.0 C269.4,302.7 279.4,304.8 285.0,306.0 C290.6,307.2 295.7,308.7 300.0,309.5 C304.3,310.3 307.7,311.6 311.0,311.0 C314.3,310.4 316.8,309.4 320.0,306.0 C323.2,302.6 327.3,294.4 330.0,290.5 C332.7,286.6 335.0,283.8 336.0,282.5" fill="none" stroke="#5b5e61" stroke-width="1.4"/>
<path d="M266,300.8 L270,300.5" stroke="#5b5e61" stroke-width="1.2"/>
<path d="M615,209.6 L623,209 L623,220 L615,219.2Z" fill="#7a7d80"/><path d="M617,211 L623,210.5 L623,215 L617,215Z" fill="#a3a6a9"/>
<ellipse cx="624.6" cy="214.7" rx="1.9" ry="10" fill="#3f4245"/>
<path d="M553.5,257.5 L558.5,256 L559,263 L554,263.5Z" fill="#77797c"/>
<ellipse cx="560.6" cy="261.2" rx="5.4" ry="7.6" transform="rotate(22 560.6 261.2)" fill="#45484b"/>
<circle cx="559.8" cy="261" r="1.5" fill="#d7d8da"/>
<path d="M714,274 L725,270.3 L726,285 L715,290Z" fill="#8b8e91"/><path d="M714,274 L725,270.3 L725.2,272.5 L714.6,276Z" fill="#b7b9bb"/>
<path d="M726,271 L732,266.2" stroke="#666" stroke-width="0.8"/><circle cx="732.3" cy="266" r="0.9" fill="#555"/>
<path d="M627.9,217 L707.5,226.5" stroke="#1a1a1a" stroke-width="1.5" stroke-dasharray="9 2.5 2 2.5" fill="none"/>
<path d="M564.5,266 L639,309" stroke="#1a1a1a" stroke-width="1.5" stroke-dasharray="9 2.5 2 2.5" fill="none"/>
<path class="ld" d="M341,149 L341,171"/>
<path class="ld" d="M162.5,278 L189,278"/>
<path class="ld" d="M200,319.5 L224,319.5"/>
<path class="ld" d="M284.6,288 L284.6,304.4"/>
<path class="ld" d="M414.5,233 L414.5,251"/>
<path class="ld" d="M712.5,192.5 L751.5,192.5"/>
<path class="ld" d="M730,279 L749.5,279"/>
<path class="ld" d="M667,369 L667,387.5"/>
<path class="ld" d="M522,237.5 L536.8,237.5"/>
<path class="ld" d="M536.8,214.3 L536.8,262.2"/>
<path class="ld" d="M536.8,214.3 L612.7,214.3"/>
<path class="ld" d="M536.8,262.2 L551.2,262.2"/>
<path class="ld" d="M50.25,159 L50.25,167.5"/>
<path class="ld" d="M89.5,147 L99.8,141.2"/>
<path class="ld" d="M101,166 L116.25,157"/>
<path class="ld" d="M138.3,142.5 L127.5,148.9"/>
<path class="ld" d="M59.5,214.7 L74.2,206.9"/>
<path class="ld" d="M73.2,240.3 L87,233.8"/>
<path class="ld" d="M89.9,273.7 L100.7,267.8"/>
<path class="ld" d="M218,141.25 L218,155.5"/>
<path class="ld" d="M256.25,165 L247.5,161.25"/>
<path class="ld" d="M222.5,166.25 L243.75,177.5"/>
<path class="ld" d="M331.25,221.25 L322.5,217.5"/>
<path class="ld" d="M300,224.5 L318.75,233"/>
<path class="ld" d="M387.5,173.75 L373.75,167"/>
<path class="ld" d="M471.8,202.5 L464.2,198"/>
<path class="ld" stroke-dasharray="7 2 1.5 2" d="M100.6,141.5 L101.2,164"/>
<path class="ld" stroke-dasharray="7 2 1.5 2" d="M246.25,160 L246.25,178.75"/>
<path class="ld" stroke-dasharray="7 2 1.5 2" d="M320.5,215 L320.5,233.75"/>
<circle class="ci" cx="50.25" cy="124" r="10.3"/>
<g transform="translate(50.25,128.50) scale(1.130,1)"><path transform="translate(-6.95,0) scale(0.01250)" d="M393,0 H254 V-527 Q178,-456 75,-422 V-549 Q129,-567 193,-616 Q257,-665 280,-729 H393 Z" fill="#111" stroke="#111" stroke-width="24.0"/><text x="0.00" y="0" font-size="12.5px" font-weight="bold" fill="#111" stroke="#111" stroke-width="0.3">5</text></g>
<circle class="ci" cx="50.25" cy="147.25" r="10.3"/>
<g transform="translate(50.25,151.75) scale(1.130,1)"><path transform="translate(-6.95,0) scale(0.01250)" d="M393,0 H254 V-527 Q178,-456 75,-422 V-549 Q129,-567 193,-616 Q257,-665 280,-729 H393 Z" fill="#111" stroke="#111" stroke-width="24.0"/><text x="0.00" y="0" font-size="12.5px" font-weight="bold" fill="#111" stroke="#111" stroke-width="0.3">4</text></g>
<circle class="ci" cx="79.75" cy="152.5" r="10.3"/>
<g transform="translate(79.75,157.00) scale(1.130,1)"><path transform="translate(-6.95,0) scale(0.01250)" d="M393,0 H254 V-527 Q178,-456 75,-422 V-549 Q129,-567 193,-616 Q257,-665 280,-729 H393 Z" fill="#111" stroke="#111" stroke-width="24.0"/><text x="0.00" y="0" font-size="12.5px" font-weight="bold" fill="#111" stroke="#111" stroke-width="0.3">2</text></g>
<circle class="ci" cx="148" cy="137.2" r="10.3"/>
<g transform="translate(148.00,141.70) scale(1.130,1)"><path transform="translate(-6.95,0) scale(0.01250)" d="M393,0 H254 V-527 Q178,-456 75,-422 V-549 Q129,-567 193,-616 Q257,-665 280,-729 H393 Z" fill="#111" stroke="#111" stroke-width="24.0"/><text x="0.00" y="0" font-size="12.5px" font-weight="bold" fill="#111" stroke="#111" stroke-width="0.3">3</text></g>
<circle class="ci" cx="49.1" cy="221.6" r="10.3"/>
<g transform="translate(49.10,226.10) scale(1.130,1)"><path transform="translate(-6.95,0) scale(0.01250)" d="M393,0 H254 V-527 Q178,-456 75,-422 V-549 Q129,-567 193,-616 Q257,-665 280,-729 H393 Z" fill="#111" stroke="#111" stroke-width="24.0"/><text x="0.00" y="0" font-size="12.5px" font-weight="bold" fill="#111" stroke="#111" stroke-width="0.3">6</text></g>
<circle class="ci" cx="63.4" cy="247.2" r="10.3"/>
<g transform="translate(63.40,251.70) scale(1.130,1)"><path transform="translate(-6.95,0) scale(0.01250)" d="M393,0 H254 V-527 Q178,-456 75,-422 V-549 Q129,-567 193,-616 Q257,-665 280,-729 H393 Z" fill="#111" stroke="#111" stroke-width="24.0"/><text x="0.00" y="0" font-size="12.5px" font-weight="bold" fill="#111" stroke="#111" stroke-width="0.3">0</text></g>
<circle class="ci" cx="80.7" cy="279.6" r="10.3"/>
<g transform="translate(80.70,284.10) scale(1.130,1)"><path transform="translate(-6.95,0) scale(0.01250)" d="M393,0 H254 V-527 Q178,-456 75,-422 V-549 Q129,-567 193,-616 Q257,-665 280,-729 H393 Z" fill="#111" stroke="#111" stroke-width="24.0"/><text x="0.00" y="0" font-size="12.5px" font-weight="bold" fill="#111" stroke="#111" stroke-width="0.3">5</text></g>
<circle class="ci" cx="120.4" cy="298.2" r="10.3"/>
<g transform="translate(120.40,302.70) scale(1.130,1)"><path transform="translate(-6.95,0) scale(0.01250)" d="M393,0 H254 V-527 Q178,-456 75,-422 V-549 Q129,-567 193,-616 Q257,-665 280,-729 H393 Z" fill="#111" stroke="#111" stroke-width="24.0"/><text x="0.00" y="0" font-size="12.5px" font-weight="bold" fill="#111" stroke="#111" stroke-width="0.3">2</text></g>
<circle class="ci" cx="217" cy="107.5" r="10.3"/>
<g transform="translate(217.00,112.00) scale(1.130,1)"><path transform="translate(-6.95,0) scale(0.01250)" d="M393,0 H254 V-527 Q178,-456 75,-422 V-549 Q129,-567 193,-616 Q257,-665 280,-729 H393 Z" fill="#111" stroke="#111" stroke-width="24.0"/><text x="0.00" y="0" font-size="12.5px" font-weight="bold" fill="#111" stroke="#111" stroke-width="0.3">2</text></g>
<circle class="ci" cx="217" cy="130.5" r="10.3"/>
<g transform="translate(217.00,135.00) scale(1.130,1)"><path transform="translate(-6.95,0) scale(0.01250)" d="M393,0 H254 V-527 Q178,-456 75,-422 V-549 Q129,-567 193,-616 Q257,-665 280,-729 H393 Z" fill="#111" stroke="#111" stroke-width="24.0"/><path transform="translate(0.00,0) scale(0.01250)" d="M393,0 H254 V-527 Q178,-456 75,-422 V-549 Q129,-567 193,-616 Q257,-665 280,-729 H393 Z" fill="#111" stroke="#111" stroke-width="24.0"/></g>
<circle class="ci" cx="265.2" cy="171.1" r="10.3"/>
<g transform="translate(265.20,175.60) scale(1.130,1)"><path transform="translate(-6.95,0) scale(0.01250)" d="M393,0 H254 V-527 Q178,-456 75,-422 V-549 Q129,-567 193,-616 Q257,-665 280,-729 H393 Z" fill="#111" stroke="#111" stroke-width="24.0"/><text x="0.00" y="0" font-size="12.5px" font-weight="bold" fill="#111" stroke="#111" stroke-width="0.3">0</text></g>
<circle class="ci" cx="340.5" cy="226.8" r="10.3"/>
<g transform="translate(340.50,231.30) scale(1.130,1)"><path transform="translate(-6.95,0) scale(0.01250)" d="M393,0 H254 V-527 Q178,-456 75,-422 V-549 Q129,-567 193,-616 Q257,-665 280,-729 H393 Z" fill="#111" stroke="#111" stroke-width="24.0"/><text x="0.00" y="0" font-size="12.5px" font-weight="bold" fill="#111" stroke="#111" stroke-width="0.3">0</text></g>
<circle class="ci" cx="397" cy="179.5" r="10.3"/>
<g transform="translate(397.00,184.00) scale(1.130,1)"><path transform="translate(-6.95,0) scale(0.01250)" d="M393,0 H254 V-527 Q178,-456 75,-422 V-549 Q129,-567 193,-616 Q257,-665 280,-729 H393 Z" fill="#111" stroke="#111" stroke-width="24.0"/><text x="0.00" y="0" font-size="12.5px" font-weight="bold" fill="#111" stroke="#111" stroke-width="0.3">0</text></g>
<circle class="ci" cx="482" cy="208.9" r="10.3"/>
<g transform="translate(482.00,213.40) scale(1.130,1)"><path transform="translate(-6.95,0) scale(0.01250)" d="M393,0 H254 V-527 Q178,-456 75,-422 V-549 Q129,-567 193,-616 Q257,-665 280,-729 H393 Z" fill="#111" stroke="#111" stroke-width="24.0"/><text x="0.00" y="0" font-size="12.5px" font-weight="bold" fill="#111" stroke="#111" stroke-width="0.3">2</text></g>
<circle class="ci" cx="232.1" cy="344.7" r="10.3"/>
<g transform="translate(232.10,349.20) scale(1.130,1)"><path transform="translate(-6.95,0) scale(0.01250)" d="M393,0 H254 V-527 Q178,-456 75,-422 V-549 Q129,-567 193,-616 Q257,-665 280,-729 H393 Z" fill="#111" stroke="#111" stroke-width="24.0"/><text x="0.00" y="0" font-size="12.5px" font-weight="bold" fill="#111" stroke="#111" stroke-width="0.3">7</text></g>
<circle class="ci" cx="281.9" cy="371.9" r="10.3"/>
<g transform="translate(281.90,376.40) scale(1.130,1)"><path transform="translate(-6.95,0) scale(0.01250)" d="M393,0 H254 V-527 Q178,-456 75,-422 V-549 Q129,-567 193,-616 Q257,-665 280,-729 H393 Z" fill="#111" stroke="#111" stroke-width="24.0"/><text x="0.00" y="0" font-size="12.5px" font-weight="bold" fill="#111" stroke="#111" stroke-width="0.3">2</text></g>
<g transform="translate(341.30,146.50) scale(1.040,1)"><text x="-5.14" y="0" font-size="18.5px" font-weight="bold" fill="#111" stroke="#111" stroke-width="0.35">4</text></g>
<g transform="translate(193.50,284.50) scale(1.040,1)"><text x="-5.14" y="0" font-size="18.5px" font-weight="bold" fill="#111" stroke="#111" stroke-width="0.35">5</text></g>
<g transform="translate(194.00,326.00) scale(1.040,1)"><text x="-5.14" y="0" font-size="18.5px" font-weight="bold" fill="#111" stroke="#111" stroke-width="0.35">8</text></g>
<g transform="translate(284.60,284.50) scale(1.040,1)"><text x="-5.14" y="0" font-size="18.5px" font-weight="bold" fill="#111" stroke="#111" stroke-width="0.35">7</text></g>
<g transform="translate(414.20,268.50) scale(1.040,1)"><text x="-5.14" y="0" font-size="18.5px" font-weight="bold" fill="#111" stroke="#111" stroke-width="0.35">9</text></g>
<g transform="translate(514.30,244.00) scale(1.040,1)"><text x="-5.14" y="0" font-size="18.5px" font-weight="bold" fill="#111" stroke="#111" stroke-width="0.35">6</text></g>
<g transform="translate(756.30,199.00) scale(1.040,1)"><path transform="translate(-5.14,0) scale(0.01850)" d="M393,0 H254 V-527 Q178,-456 75,-422 V-549 Q129,-567 193,-616 Q257,-665 280,-729 H393 Z" fill="#111" stroke="#111" stroke-width="18.9"/></g>
<g transform="translate(755.30,285.50) scale(1.040,1)"><text x="-5.14" y="0" font-size="18.5px" font-weight="bold" fill="#111" stroke="#111" stroke-width="0.35">2</text></g>
<g transform="translate(666.30,408.50) scale(1.040,1)"><text x="-5.14" y="0" font-size="18.5px" font-weight="bold" fill="#111" stroke="#111" stroke-width="0.35">3</text></g>
<path d="M301.5,490.3 H792.2 V538.4 H301.5Z M722.1,394.4 H792.2 V490.3 M722.1,394.4 V538.4 M722.1,441.8 H792.2" fill="none" stroke="#3c3c3c" stroke-width="1"/>
<path d="M371.6,490.3 V538.4" stroke="#3c3c3c" stroke-width="1"/>
<path d="M441.7,490.3 V538.4" stroke="#3c3c3c" stroke-width="1"/>
<path d="M511.8,490.3 V538.4" stroke="#3c3c3c" stroke-width="1"/>
<path d="M581.9,490.3 V538.4" stroke="#3c3c3c" stroke-width="1"/>
<path d="M652.0,490.3 V538.4" stroke="#3c3c3c" stroke-width="1"/>
<g transform="translate(305.30,508.00) scale(1.030,1)"><path transform="translate(0.00,0) scale(0.01750)" d="M393,0 H254 V-527 Q178,-456 75,-422 V-549 Q129,-567 193,-616 Q257,-665 280,-729 H393 Z" fill="#111" stroke="#111" stroke-width="20.0"/><text x="9.73" y="0" font-size="17.5px" font-weight="bold" fill="#111" stroke="#111" stroke-width="0.35">7</text></g>
<g transform="translate(375.60,508.00) scale(1.030,1)"><path transform="translate(0.00,0) scale(0.01750)" d="M393,0 H254 V-527 Q178,-456 75,-422 V-549 Q129,-567 193,-616 Q257,-665 280,-729 H393 Z" fill="#111" stroke="#111" stroke-width="20.0"/><text x="9.73" y="0" font-size="17.5px" font-weight="bold" fill="#111" stroke="#111" stroke-width="0.35">6</text></g>
<g transform="translate(446.00,508.00) scale(1.030,1)"><path transform="translate(0.00,0) scale(0.01750)" d="M393,0 H254 V-527 Q178,-456 75,-422 V-549 Q129,-567 193,-616 Q257,-665 280,-729 H393 Z" fill="#111" stroke="#111" stroke-width="20.0"/><text x="9.73" y="0" font-size="17.5px" font-weight="bold" fill="#111" stroke="#111" stroke-width="0.35">5</text></g>
<g transform="translate(516.00,508.00) scale(1.030,1)"><path transform="translate(0.00,0) scale(0.01750)" d="M393,0 H254 V-527 Q178,-456 75,-422 V-549 Q129,-567 193,-616 Q257,-665 280,-729 H393 Z" fill="#111" stroke="#111" stroke-width="20.0"/><text x="9.73" y="0" font-size="17.5px" font-weight="bold" fill="#111" stroke="#111" stroke-width="0.35">4</text></g>
<g transform="translate(586.00,508.00) scale(1.030,1)"><path transform="translate(0.00,0) scale(0.01750)" d="M393,0 H254 V-527 Q178,-456 75,-422 V-549 Q129,-567 193,-616 Q257,-665 280,-729 H393 Z" fill="#111" stroke="#111" stroke-width="20.0"/><text x="9.73" y="0" font-size="17.5px" font-weight="bold" fill="#111" stroke="#111" stroke-width="0.35">3</text></g>
<g transform="translate(656.00,508.00) scale(1.030,1)"><path transform="translate(0.00,0) scale(0.01750)" d="M393,0 H254 V-527 Q178,-456 75,-422 V-549 Q129,-567 193,-616 Q257,-665 280,-729 H393 Z" fill="#111" stroke="#111" stroke-width="20.0"/><text x="9.73" y="0" font-size="17.5px" font-weight="bold" fill="#111" stroke="#111" stroke-width="0.35">2</text></g>
<g transform="translate(725.50,412.50) scale(1.030,1)"><path transform="translate(0.00,0) scale(0.01750)" d="M393,0 H254 V-527 Q178,-456 75,-422 V-549 Q129,-567 193,-616 Q257,-665 280,-729 H393 Z" fill="#111" stroke="#111" stroke-width="20.0"/><path transform="translate(9.73,0) scale(0.01750)" d="M393,0 H254 V-527 Q178,-456 75,-422 V-549 Q129,-567 193,-616 Q257,-665 280,-729 H393 Z" fill="#111" stroke="#111" stroke-width="20.0"/></g>
<g transform="translate(725.50,460.00) scale(1.030,1)"><path transform="translate(0.00,0) scale(0.01750)" d="M393,0 H254 V-527 Q178,-456 75,-422 V-549 Q129,-567 193,-616 Q257,-665 280,-729 H393 Z" fill="#111" stroke="#111" stroke-width="20.0"/><text x="9.73" y="0" font-size="17.5px" font-weight="bold" fill="#111" stroke="#111" stroke-width="0.35">0</text></g>
<text x="738.3" y="552.2" font-size="13px" fill="#4a4a4a" textLength="43.5" lengthAdjust="spacingAndGlyphs">481387</text>
<path d="M727.8,494.8 L727.8,522.4 L737.3,517.5 L767.3,534.6 L786.8,523.7 L786.8,517.3 L756.6,500.2 L766.2,494.8Z" fill="#0a0a0a"/>
<path d="M729.2,496.2 L762.6,496.2 L754,500.7 L784.4,517.8 L767.3,527 L737.3,510.1 L729.2,514.4Z" fill="#fff"/>
<path d="M765.75,495 L756.1,500.2 L761.5,503.2 L765.75,500.8Z" fill="#0a0a0a"/>
<defs><linearGradient id="g17t" x1="0" y1="0" x2="1" y2="0"><stop offset="0" stop-color="#a9acaf"/><stop offset="0.55" stop-color="#b4b7b9"/><stop offset="1" stop-color="#85888b"/></linearGradient><linearGradient id="g17f" x1="0" y1="0" x2="0.35" y2="1"><stop offset="0" stop-color="#d4d6d8"/><stop offset="0.45" stop-color="#8f9295"/><stop offset="1" stop-color="#b4b7b9"/></linearGradient></defs>
<g>
<path d="M340.3,527.4 L361,514.25 L364.7,520.8 L337,536.75 L332.3,529.25Z" fill="#d9dbdd" stroke="#a9acaf" stroke-width="0.5"/>
<path d="M322,527.8 L331,522.7 L331.9,525.5 L323,530Z" fill="#5e6164"/>
<path d="M336.1,515.7 L363.75,501.1 C365,504 364.8,508 363.8,511.5 L360,515.2 L339.4,527.4 L336.3,526Z" fill="url(#g17f)"/>
<path d="M322.5,510 L351.1,494.1 L363.75,501.1 L336.1,515.7Z" fill="url(#g17t)"/>
<path d="M322.5,510 L323,515 L328,518 L328.5,523.5 L336.3,526 L336.1,515.7Z" fill="#9b9ea1"/>
<path d="M323.3,511.2 L334.7,516.6 L334.7,519 L328.2,519 L328,518 L323.4,515.2Z" fill="#55585b"/>
<path d="M336.1,515.7 L363.75,501.1" stroke="#dcdddf" stroke-width="1.1"/>
</g>
<g>
<path d="M412.4,499.5 L416.8,497.4 L418.2,504 L413.2,506.5Z" fill="#d0d2d4" stroke="#8a8d90" stroke-width="0.5"/>
<path d="M434,509 L437.6,507 L438.9,514.3 L435.4,516.8Z" fill="#d0d2d4" stroke="#8a8d90" stroke-width="0.5"/>
<path d="M387.9,515.2 C388,513 390,512 392,511 L408.75,504.3 L437.75,515.2 L437.75,519.5 L413,534 L404.5,532 L387.9,521.5Z" fill="#777a7d"/>
<path d="M387.9,515.2 L408.75,504.3 L437.75,515.2 L412.4,529.7 L404,526.5Z" fill="#a5a8ab"/>
<path d="M393,515.3 L408.75,507 L431.5,515.2 L413,525Z" fill="#6e7174"/>
<path d="M396,519 L406,513 L409,516 L401,521.5Z M419,519.5 L429,514 L431,516 L421,522Z" fill="#b9bbbd"/>
<ellipse cx="414.3" cy="510.8" rx="9" ry="6.3" fill="#8c8f92"/>
<ellipse cx="414.3" cy="510.2" rx="9" ry="6" fill="#bcbec0"/>
<ellipse cx="414.4" cy="510.6" rx="4.6" ry="3.3" fill="#5e6164"/>
<ellipse cx="415" cy="511.4" rx="3.3" ry="2.2" fill="#f6f6f6"/>
<path d="M389.5,517.5 L397.5,514 L399,520 L393,522.8Z" fill="#4f5255"/>
<path d="M404,526.5 L412.4,529.7 L413,534 L404.5,532Z" fill="#cfd1d3"/>
<path d="M412.4,529.7 L437.75,515.2 L437.75,519.5 L413,534Z" fill="#8d9093"/>
</g>
<defs><radialGradient id="g15h" cx="0.42" cy="0.5" r="0.62"><stop offset="0" stop-color="#e2e3e5"/><stop offset="0.45" stop-color="#c2c4c6"/><stop offset="1" stop-color="#7b7e81"/></radialGradient><linearGradient id="g15s" x1="0" y1="0" x2="1" y2="0"><stop offset="0" stop-color="#85888b"/><stop offset="0.35" stop-color="#c4c6c8"/><stop offset="1" stop-color="#7d8083"/></linearGradient></defs>
<g>
<path d="M481,505 L493.7,505 L493.7,530.5 C493,534 490.5,536.8 487.4,536.8 C484.3,536.8 481.8,534 481,530.5Z" fill="url(#g15s)"/>
<path d="M481,518.1 L493.7,516.3" stroke="#6c6f72" stroke-width="1.1"/>
<path d="M481,521.3000000000001 L493.7,519.5" stroke="#6c6f72" stroke-width="1.1"/>
<path d="M481,524.5 L493.7,522.6999999999999" stroke="#6c6f72" stroke-width="1.1"/>
<path d="M481,527.7 L493.7,525.9" stroke="#6c6f72" stroke-width="1.1"/>
<path d="M481,530.9 L493.7,529.0999999999999" stroke="#6c6f72" stroke-width="1.1"/>
<path d="M481,534.1 L493.7,532.3" stroke="#6c6f72" stroke-width="1.1"/>
<path d="M479.5,505 C481,508.5 494,508.5 495.5,505Z" fill="#6f7275"/>
<ellipse cx="487.4" cy="499.9" rx="12.7" ry="7.4" fill="url(#g15h)"/>
<ellipse cx="487" cy="496.5" rx="3.7" ry="2.3" fill="#5b5e61"/>
</g>
<g>
<path d="M543.4,508 L558.7,516 L573.1,506 L570.4,528.6 L557.8,535.8 L545.7,528.6Z" fill="#a0a3a6"/>
<path d="M558.7,516 L573.1,506 L570.4,528.6 L557.8,535.8Z" fill="#aeb1b3"/>
<path d="M539.4,503.9 L557.8,493 L575.8,503 L575.8,505.4 L558.7,517.4 L539.4,506.2Z" fill="#8f9295"/>
<path d="M539.4,503.9 L557.8,493 L575.8,503 L558.7,515.1Z" fill="#b2b5b7"/>
<ellipse cx="557.8" cy="503.3" rx="6.9" ry="4.1" fill="#696c6f"/>
<path d="M553.5,500.2 C555,498.5 560,498.3 563.5,500.5 C562,499.3 556,499.6 553.5,502Z" fill="#e6e7e8"/>
<path d="M557.8,499.3 C561,499.4 564,500.8 564.7,503.3 C564.4,501.3 561,500.2 557.8,500.4Z" fill="#e6e7e8"/>
<path d="M549.5,497.9 L553.5,502.5 L554.6,501.9 L550.7,497.2Z" fill="#77797c"/>
<path d="M562,507.3 L565,511.8 L566,511 L563,506.7Z" fill="#77797c"/>
<path d="M564.6,512 L566.6,510.8 L566.2,516 L567.4,516.8 L566.8,520 L565.4,524.4 L563.6,523.4 L564.4,519.5 L563.4,518.8 L564.5,516Z" fill="#4d5053"/>
</g>
<defs><linearGradient id="g13b" x1="0" y1="0" x2="1" y2="0"><stop offset="0" stop-color="#9da0a3"/><stop offset="0.3" stop-color="#c9cbcd"/><stop offset="0.65" stop-color="#a9acaf"/><stop offset="1" stop-color="#7f8285"/></linearGradient><linearGradient id="g13h" x1="0" y1="0" x2="1" y2="1"><stop offset="0" stop-color="#cdcfd1"/><stop offset="0.6" stop-color="#aeb1b3"/><stop offset="1" stop-color="#8f9295"/></linearGradient></defs>
<g>
<path d="M618.4,509 L640,509 L640,525 L631,537.3 L628,537.3 L618.4,525Z" fill="url(#g13b)"/>
<path d="M622.5,511 L624.4,511 L624.4,532 L622.5,529.6Z M632.8,511 L634.9,511 L634.9,531 L632.8,533.6Z" fill="#5f6265"/>
<path d="M612.8,499.6 L645.4,499.6 L645.4,505.4 C645.4,513.8 612.8,513.8 612.8,505.4Z" fill="#939699"/>
<path d="M612.8,503 C614,511 640,512.5 645.4,504" stroke="#c9cbcd" stroke-width="0.9" fill="none"/>
<ellipse cx="629.1" cy="499.8" rx="16.3" ry="7.7" fill="url(#g13h)"/>
<ellipse cx="629.1" cy="500.3" rx="4.1" ry="2.4" fill="#5d6063"/>
<ellipse cx="629.6" cy="500.9" rx="2.8" ry="1.5" fill="#8a8d90"/>
</g>
<g>
<path d="M692,519 L703.6,519 L702.5,524 L698.4,535 L697,535 L693.2,524Z" fill="#7f8285"/>
<path d="M692.6,523 L703,521.6 M693.5,526.5 L701.5,525" stroke="#5d6063" stroke-width="0.9"/>
<ellipse cx="698" cy="509.6" rx="21.6" ry="12.8" fill="#7b7e81"/>
<ellipse cx="698" cy="508.2" rx="21.6" ry="12.6" fill="#a2a5a8"/>
<path d="M687.8,502.5 L692,499.2 L702,499 L706.6,502 L706.2,510 L701,513.4 L692,513.2 L688,510Z" fill="#84878a"/>
<path d="M687.8,502.5 L692,499.2 L702,499 L706.6,502 L702,505.4 L692,505.4Z" fill="#b5b7ba"/>
</g>
<g>
<path d="M745.3,413 L745.3,430.3 L766.8,439.6 L768.7,441 L786.5,430.3 L786.5,418 L769.6,427.5Z" fill="#797c7f"/>
<path d="M745.3,420.5 L769.6,432 L786.5,423" stroke="#4f5255" stroke-width="1.7" fill="none"/>
<path d="M769.6,427.5 L786.5,418 L786.5,430.3 L768.7,441 L768.7,437 L770.5,436Z" fill="#909396"/>
<path d="M745.3,430.3 L745.3,433.5 L750,435.5 L750,432.5Z M766.8,439.6 L766.8,443 L770,442.5 L768.7,441Z" fill="#9a9da0"/>
<path d="M745.3,412.1 L760.3,402.2 L775.3,402.7 C782,404 786,409 784.6,418.1 L769.6,426.5 L745.3,415Z" fill="#b9bbbd"/>
<path d="M745.3,412.1 L769.6,423.5 L784.6,415 L784.6,418.1 L769.6,426.5 L745.3,415Z" fill="#8a8d90"/>
<path d="M751,408.4 L758.3,403.5 L765.9,405.9 L765.9,412.6 L759.5,416 L756.5,414.6 L756.5,411Z" fill="#77797c"/>
<path d="M752.5,407.4 L758.6,403.3 L764.4,406.4 L764.4,411.6 L759.8,414 L758,413.2 L758,409.8Z" fill="#ffffff"/>
<ellipse cx="769.8" cy="414.2" rx="3.4" ry="2.6" fill="#5d6063"/>
<ellipse cx="770.4" cy="414.9" rx="2.2" ry="1.5" fill="#d5d6d8"/>
</g>
<g>
<ellipse cx="765.2" cy="466.6" rx="23.7" ry="13" fill="#7b7e81"/>
<ellipse cx="765.2" cy="464.6" rx="23.7" ry="12.8" fill="#a4a7aa"/>
<ellipse cx="765.2" cy="464.4" rx="17.5" ry="8.8" fill="#94979a"/>
<path d="M753,457.5 L758.5,449.5 L772,449 L778.5,456.5 L778,462.5 L774,467.8 L759.5,469.6 L754,464Z" fill="#898c8f"/>
<path d="M759.5,462.5 L759.5,469.6 L774,467.8 L773,461.5Z" fill="#a2a5a8"/>
<path d="M753,457.5 L758.5,449.5 L772,449 L778.5,456.5 L773,461.5 L759.5,462.5Z" fill="#bbbdbf"/>
<ellipse cx="765.2" cy="455" rx="5.2" ry="3.3" fill="#646769"/>
<ellipse cx="765.7" cy="455.8" rx="3.6" ry="2.1" fill="#909396"/>
</g>
</svg>
</body></html>
